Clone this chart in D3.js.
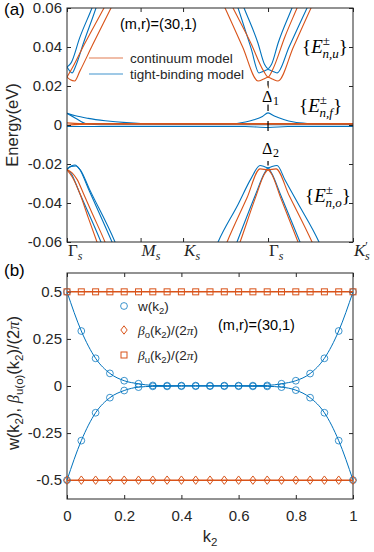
<!DOCTYPE html>
<html>
<head>
<meta charset="utf-8">
<script src="https://cdn.jsdelivr.net/npm/d3@7"></script>
<style>
  body { margin: 0; background: #fff; }
</style>
</head>
<body>
<div id="chart"></div>
<script>
// ---------------- data: panel (a), bands along the path (k in path units) ----------------
var G = 2.366; // second Gamma point
var kTicks = [0, 0.866, 1.366, 2.366, 3.366];
var kTickNames = ["Γ", "M", "K", "Γ", "K"];
var kTickPrime = [false, false, false, false, true];
var yTicksA = [-0.06, -0.04, -0.02, 0, 0.02, 0.04, 0.06];

// continuum model (red)
var contBands = [
  // upper bands near first Gamma
  [[0,0.0246],[0.05,0.0283],[0.2,0.041],[0.435,0.060],[0.52,0.067]],
  [[0,0.0246],[0.04,0.0232],[0.09,0.0226],[0.15,0.0275],[0.3,0.041],[0.518,0.060],[0.6,0.0672]],
  // lower bands near first Gamma
  [[0,-0.023],[0.06,-0.0265],[0.15,-0.035],[0.25,-0.0475],[0.353,-0.06],[0.42,-0.068]],
  [[0,-0.023],[0.06,-0.0245],[0.12,-0.028],[0.2,-0.0358],[0.3,-0.0456],[0.447,-0.06],[0.52,-0.068]],
  // upper bands near second Gamma
  [[G-0.49,0.0667],[G-0.412,0.060],[G-0.2,0.0418],[G-0.05,0.0275],[G,0.0246],[G+0.05,0.028],[G+0.2,0.0454],[G+0.341,0.060],[G+0.41,0.0672]],
  [[G-0.59,0.0678],[G-0.506,0.060],[G-0.3,0.0401],[G-0.118,0.0226],[G-0.05,0.0236],[G,0.0245],[G+0.05,0.0236],[G+0.118,0.0226],[G+0.3,0.0401],[G+0.506,0.060],[G+0.59,0.0678]],
  // lower bands near second Gamma
  [[G-0.4,-0.0685],[G-0.329,-0.06],[G-0.15,-0.0375],[G-0.04,-0.025],[G,-0.023],[G+0.04,-0.025],[G+0.15,-0.0375],[G+0.353,-0.06],[G+0.42,-0.0676]],
  [[G-0.56,-0.0685],[G-0.482,-0.06],[G-0.25,-0.0376],[G-0.094,-0.0225],[G,-0.023],[G+0.094,-0.0225],[G+0.25,-0.0363],[G+0.518,-0.06],[G+0.6,-0.068]],
  // flat bands
  [[0,0.0011],[0.15,0.0008],[0.4,0.0007],[3.366,0.0007]],
  [[0,-0.0002],[0.15,0.0003],[0.4,0.0004],[3.366,0.0004]]
];

// tight-binding model (blue)
var tbBands = [
  [[0,0.0297],[0.05,0.032],[0.15,0.0448],[0.294,0.060],[0.36,0.0675]],
  [[0,0.0297],[0.03,0.0278],[0.06,0.0267],[0.1,0.030],[0.2,0.0428],[0.341,0.060],[0.4,0.068]],
  [[0,-0.0226],[0.05,-0.025],[0.15,-0.035],[0.4,-0.06],[0.47,-0.0675]],
  [[0,-0.0226],[0.05,-0.021],[0.094,-0.0205],[0.15,-0.0228],[0.25,-0.0326],[0.53,-0.06],[0.6,-0.0672]],
  [[0,-0.0226],[0.05,-0.0212],[0.105,-0.021],[0.16,-0.0232],[0.26,-0.0325],[0.565,-0.06],[0.63,-0.067]],
  [[G-0.35,0.0675],[G-0.282,0.060],[G-0.12,0.0422],[G-0.04,0.031],[G,0.029],[G+0.04,0.031],[G+0.12,0.0422],[G+0.282,0.060],[G+0.35,0.0675]],
  [[G-0.42,0.0685],[G-0.353,0.060],[G-0.2,0.0394],[G-0.106,0.0267],[G-0.05,0.0276],[G,0.0285],[G+0.05,0.0276],[G+0.106,0.0267],[G+0.25,0.0403],[G+0.459,0.060],[G+0.53,0.0667]],
  [[G-0.67,-0.0685],[G-0.588,-0.06],[G-0.35,-0.0405],[G-0.2,-0.0275],[G-0.094,-0.0208],[G-0.04,-0.0214],[G,-0.022],[G+0.04,-0.0214],[G+0.106,-0.0208],[G+0.2,-0.0282],[G+0.35,-0.040],[G+0.6,-0.06],[G+0.68,-0.068]],
  [[G-0.44,-0.0685],[G-0.365,-0.06],[G-0.15,-0.036],[G-0.04,-0.0245],[G,-0.022],[G+0.04,-0.0245],[G+0.15,-0.036],[G+0.376,-0.06],[G+0.45,-0.068]],
  // flat bands
  [[0,0.006],[0.1,0.0047],[0.25,0.0034],[0.45,0.0022],[0.7,0.0012],[0.87,0.0008],[1.37,0.0004],[1.8,0.0004],[2.0,0.0008],[2.1,0.0015],[2.2,0.0027],[2.3,0.0044],[2.366,0.0062],[2.44,0.0046],[2.55,0.0028],[2.67,0.0015],[2.85,0.0007],[3.05,0.0004],[3.366,0.0003]],
  [[0,0.006],[0.1,0.0035],[0.235,0.0005],[0.4,0.0001],[3.366,0.0001]],
  [[0,-0.0008],[2.1,-0.0008],[2.366,-0.0013],[2.6,-0.0008],[3.366,-0.0008]]
];

// ---------------- data: panel (b), Wannier centers ----------------
var k2 = [0,0.05,0.1,0.15,0.2,0.25,0.3,0.35,0.4,0.45,0.5,0.55,0.6,0.65,0.7,0.75,0.8,0.85,0.9,0.95,1];
var wUpper = [0.5,0.292,0.147,0.067,0.028,0.012,0.003,0.002,0.002,0.002,0.002,0.002,0.002,0.002,0.003,0.012,0.028,0.066,0.147,0.292,0.5];
var wLower = [-0.5,-0.29,-0.142,-0.062,-0.024,-0.006,-0.002,-0.002,-0.001,-0.001,-0.001,-0.001,-0.001,-0.002,-0.002,-0.006,-0.022,-0.062,-0.142,-0.29,-0.5];
var betaO = [-0.5,-0.5,-0.5,-0.5,-0.5,-0.5,-0.5,-0.5,-0.5,-0.5,-0.5,-0.5,-0.5,-0.5,-0.5,-0.5,-0.5,-0.5,-0.5,-0.5,-0.5];
var betaU = [0.5,0.5,0.5,0.5,0.5,0.5,0.5,0.5,0.5,0.5,0.5,0.5,0.5,0.5,0.5,0.5,0.5,0.5,0.5,0.5,0.5];
var xTicksB = [0, 0.2, 0.4, 0.6, 0.8, 1];
var yTicksB = [-0.5, -0.25, 0, 0.25, 0.5];

// ---------------- setup ----------------
var blue = "#0072BD", red = "#D95319", axisCol = "#262626";
var sans = "'Liberation Sans', Arial, Helvetica, sans-serif";
var serif = "'Liberation Serif', 'Times New Roman', serif";

var svg = d3.select("#chart").append("svg")
    .attr("width", 374)
    .attr("height", 552)
    .style("font-family", sans);

function numFmt(d) { return d === 0 ? "0" : String(d); }

// draws a box with inward ticks on all four sides
function drawAxes(x, y, xt, yt, xLabels, yFmt, xPad) {
  var g = svg.append("g");
  var x0 = x.range()[0], x1 = x.range()[1], y0 = y.range()[1], y1 = y.range()[0];
  g.append("g").attr("transform", "translate(0," + y1 + ")")
    .call(d3.axisBottom(x).tickValues(xt).tickSize(-4).tickPadding(xPad)
      .tickFormat(xLabels ? function(d) { return numFmt(d); } : ""));
  g.append("g").attr("transform", "translate(0," + y0 + ")")
    .call(d3.axisTop(x).tickValues(xt).tickSize(-4).tickFormat(""));
  g.append("g").attr("transform", "translate(" + x0 + ",0)")
    .call(d3.axisLeft(y).tickValues(yt).tickSize(-4).tickPadding(5).tickFormat(yFmt));
  g.append("g").attr("transform", "translate(" + x1 + ",0)")
    .call(d3.axisRight(y).tickValues(yt).tickSize(-4).tickFormat(""));
  g.selectAll(".domain").remove();
  g.selectAll(".tick line").attr("stroke", axisCol);
  g.selectAll(".tick text").attr("fill", axisCol).style("font-size", "15px").style("font-family", sans);
  g.append("rect").attr("x", x0).attr("y", y0).attr("width", x1 - x0).attr("height", y1 - y0)
    .attr("fill", "none").attr("stroke", axisCol).attr("stroke-width", 1);
  return g;
}

// ---------------- panel (a) ----------------
var xa = d3.scaleLinear().domain([0, 3.366]).range([67, 353]);
var ya = d3.scaleLinear().domain([-0.06, 0.06]).range([242, 8]);

svg.append("clipPath").attr("id", "clipA").append("rect")
  .attr("x", 67).attr("y", 8).attr("width", 286).attr("height", 234);

var bandLine = d3.line()
  .x(function(d) { return xa(d[0]); })
  .y(function(d) { return ya(d[1]); })
  .curve(d3.curveMonotoneX);

var plotA = svg.append("g").attr("clip-path", "url(#clipA)");
plotA.selectAll(".tb").data(tbBands).enter().append("path")
  .attr("class", "tb").attr("d", bandLine)
  .attr("fill", "none").attr("stroke", blue).attr("stroke-width", 1.1);
plotA.selectAll(".cont").data(contBands).enter().append("path")
  .attr("class", "cont").attr("d", bandLine)
  .attr("fill", "none").attr("stroke", red).attr("stroke-width", 1.1);

drawAxes(xa, ya, kTicks, yTicksA, false, function(d) { return d === 0 ? "0" : d.toFixed(2); }, 3);

// k-path labels (left-aligned at their ticks)
kTicks.forEach(function(k, i) {
  var t = svg.append("text").attr("x", xa(k) + 1).attr("y", 256)
    .style("font-family", serif).style("font-size", "17px").attr("fill", axisCol);
  t.append("tspan").style("font-style", i === 0 || i === 3 ? "normal" : "italic").text(kTickNames[i]);
  if (kTickPrime[i]) {
    t.append("tspan").attr("dy", -6).style("font-size", "12px").text("′");
    t.append("tspan").attr("dx", -3).attr("dy", 10).style("font-size", "12px").style("font-style", "italic").text("s");
  } else {
    t.append("tspan").attr("dy", 4).style("font-size", "12px").style("font-style", "italic").text("s");
  }
});

// gap markers at second Gamma
svg.append("line")
  .attr("x1", xa(G)).attr("x2", xa(G))
  .attr("y1", ya(0.0226)).attr("y2", ya(-0.0208))
  .attr("stroke", "#000").attr("stroke-width", 1.2).attr("stroke-dasharray", "10,10");

function deltaLabel(y, sub) {
  var t = svg.append("text").attr("x", xa(G) - 6).attr("y", y)
    .style("font-family", serif).style("font-size", "17px")
    .attr("stroke", "#fff").attr("stroke-width", 5).style("paint-order", "stroke");
  t.append("tspan").text("Δ");
  t.append("tspan").attr("dy", 3).style("font-size", "12px").text(sub);
}
deltaLabel(102, "1");
deltaLabel(154, "2");

function eLabel(x, y, sub) {
  var t = svg.append("text").attr("x", x).attr("y", y)
    .style("font-family", serif).style("font-size", "19px");
  t.append("tspan").text("{");
  t.append("tspan").style("font-style", "italic").text("E");
  t.append("tspan").attr("dy", -8).style("font-size", "13px").text("±");
  t.append("tspan").attr("dx", -7.3).attr("dy", 13).style("font-size", "13px").style("font-style", "italic").text(sub);
  t.append("tspan").attr("dy", -5).text("}");
}
eLabel(302, 53, "n,u");
eLabel(299, 112, "n,f");
eLabel(305, 202, "n,o");

// legend (a)
var legA = [["continuum model", red, 58], ["tight-binding model", blue, 74]];
legA.forEach(function(l) {
  svg.append("line").attr("x1", 89).attr("x2", 123).attr("y1", l[2]).attr("y2", l[2])
    .attr("stroke", l[1]).attr("stroke-width", 1.2).attr("opacity", 0.75);
  svg.append("text").attr("x", 130).attr("y", l[2] + 5)
    .style("font-size", "13.5px").attr("fill", axisCol).text(l[0]);
});
svg.append("text").attr("x", 120).attr("y", 29).style("font-size", "14.5px")
  .attr("fill", "#000").text("(m,r)=(30,1)");

svg.append("text").attr("transform", "translate(18,125) rotate(-90)")
  .attr("text-anchor", "middle").style("font-size", "16.5px").attr("fill", axisCol)
  .text("Energy(eV)");
svg.append("text").attr("x", 4).attr("y", 15).style("font-size", "17px").text("(a)");

// ---------------- panel (b) ----------------
var xb = d3.scaleLinear().domain([0, 1]).range([67, 353]);
var yb = d3.scaleLinear().domain([-0.6, 0.6]).range([499, 273]);

drawAxes(xb, yb, xTicksB, yTicksB, true, numFmt, 11);

var wLine = d3.line()
  .x(function(d, i) { return xb(k2[i]); })
  .y(function(d) { return yb(d); })
  .curve(d3.curveMonotoneX);
var flatLine = d3.line()
  .x(function(d, i) { return xb(k2[i]); })
  .y(function(d) { return yb(d); });

var plotB = svg.append("g");
[wUpper, wLower].forEach(function(s) {
  plotB.append("path").attr("d", wLine(s)).attr("fill", "none")
    .attr("stroke", blue).attr("stroke-width", 1);
});
[betaU, betaO].forEach(function(s) {
  plotB.append("path").attr("d", flatLine(s)).attr("fill", "none")
    .attr("stroke", red).attr("stroke-width", 1.5);
});

function circleMark(g, cx, cy) {
  g.append("circle").attr("cx", cx).attr("cy", cy).attr("r", 3.4)
    .attr("fill", "none").attr("stroke", blue).attr("stroke-width", 0.9).attr("opacity", 0.85);
}
function diamondMark(g, cx, cy) {
  g.append("path").attr("d", "M" + cx + "," + (cy - 4.2) + "L" + (cx + 3.2) + "," + cy +
      "L" + cx + "," + (cy + 4.2) + "L" + (cx - 3.2) + "," + cy + "Z")
    .attr("fill", "none").attr("stroke", red).attr("stroke-width", 1);
}
function squareMark(g, cx, cy) {
  g.append("rect").attr("x", cx - 3).attr("y", cy - 3).attr("width", 6).attr("height", 6)
    .attr("fill", "none").attr("stroke", red).attr("stroke-width", 1);
}

k2.forEach(function(k, i) {
  circleMark(plotB, xb(k), yb(wUpper[i]));
  circleMark(plotB, xb(k), yb(wLower[i]));
});
k2.forEach(function(k, i) {
  diamondMark(plotB, xb(k), yb(betaO[i]));
  squareMark(plotB, xb(k), yb(betaU[i]));
});

// legend (b)
circleMark(svg, 124, 306);
diamondMark(svg, 124, 330);
squareMark(svg, 124, 355);

function legText(y, parts) {
  var t = svg.append("text").attr("x", 138).attr("y", y)
    .style("font-size", "13.5px").attr("fill", axisCol);
  parts.forEach(function(p) {
    var s = t.append("tspan").text(p.t);
    if (p.dy) s.attr("dy", p.dy);
    if (p.sub) s.style("font-size", "9.5px");
    if (p.serif) s.style("font-family", serif).style("font-style", "italic");
  });
  return t;
}
legText(311, [{t: "w(k"}, {t: "2", sub: true, dy: 3}, {t: ")", dy: -3}]);
legText(335, [{t: "β", serif: true}, {t: "o", sub: true, dy: 3}, {t: "(k", dy: -3},
  {t: "2", sub: true, dy: 3}, {t: ")/(2", dy: -3}, {t: "π", serif: true}, {t: ")"}]);
legText(360, [{t: "β", serif: true}, {t: "u", sub: true, dy: 3}, {t: "(k", dy: -3},
  {t: "2", sub: true, dy: 3}, {t: ")/(2", dy: -3}, {t: "π", serif: true}, {t: ")"}]);

svg.append("text").attr("x", 218).attr("y", 330).style("font-size", "14.5px")
  .attr("fill", "#000").text("(m,r)=(30,1)");

// axis labels (b)
var yl = svg.append("text").attr("transform", "translate(19,383) rotate(-90)")
  .attr("text-anchor", "middle").style("font-size", "16.5px").attr("fill", axisCol);
yl.append("tspan").text("w(k");
yl.append("tspan").attr("dy", 4).style("font-size", "11.5px").text("2");
yl.append("tspan").attr("dy", -4).text("), ");
yl.append("tspan").style("font-family", serif).style("font-style", "italic").text("β");
yl.append("tspan").attr("dy", 4).style("font-size", "11.5px").text("u(o)");
yl.append("tspan").attr("dy", -4).text("(k");
yl.append("tspan").attr("dy", 4).style("font-size", "11.5px").text("2");
yl.append("tspan").attr("dy", -4).text(")/(2");
yl.append("tspan").style("font-family", serif).style("font-style", "italic").text("π");
yl.append("tspan").text(")");

var xl = svg.append("text").attr("x", 210).attr("y", 542).attr("text-anchor", "middle")
  .style("font-size", "16.5px").attr("fill", axisCol);
xl.append("tspan").text("k");
xl.append("tspan").attr("dy", 4).style("font-size", "11.5px").text("2");

svg.append("text").attr("x", 4).attr("y", 276).style("font-size", "17px").text("(b)");
</script>
</body>
</html>
